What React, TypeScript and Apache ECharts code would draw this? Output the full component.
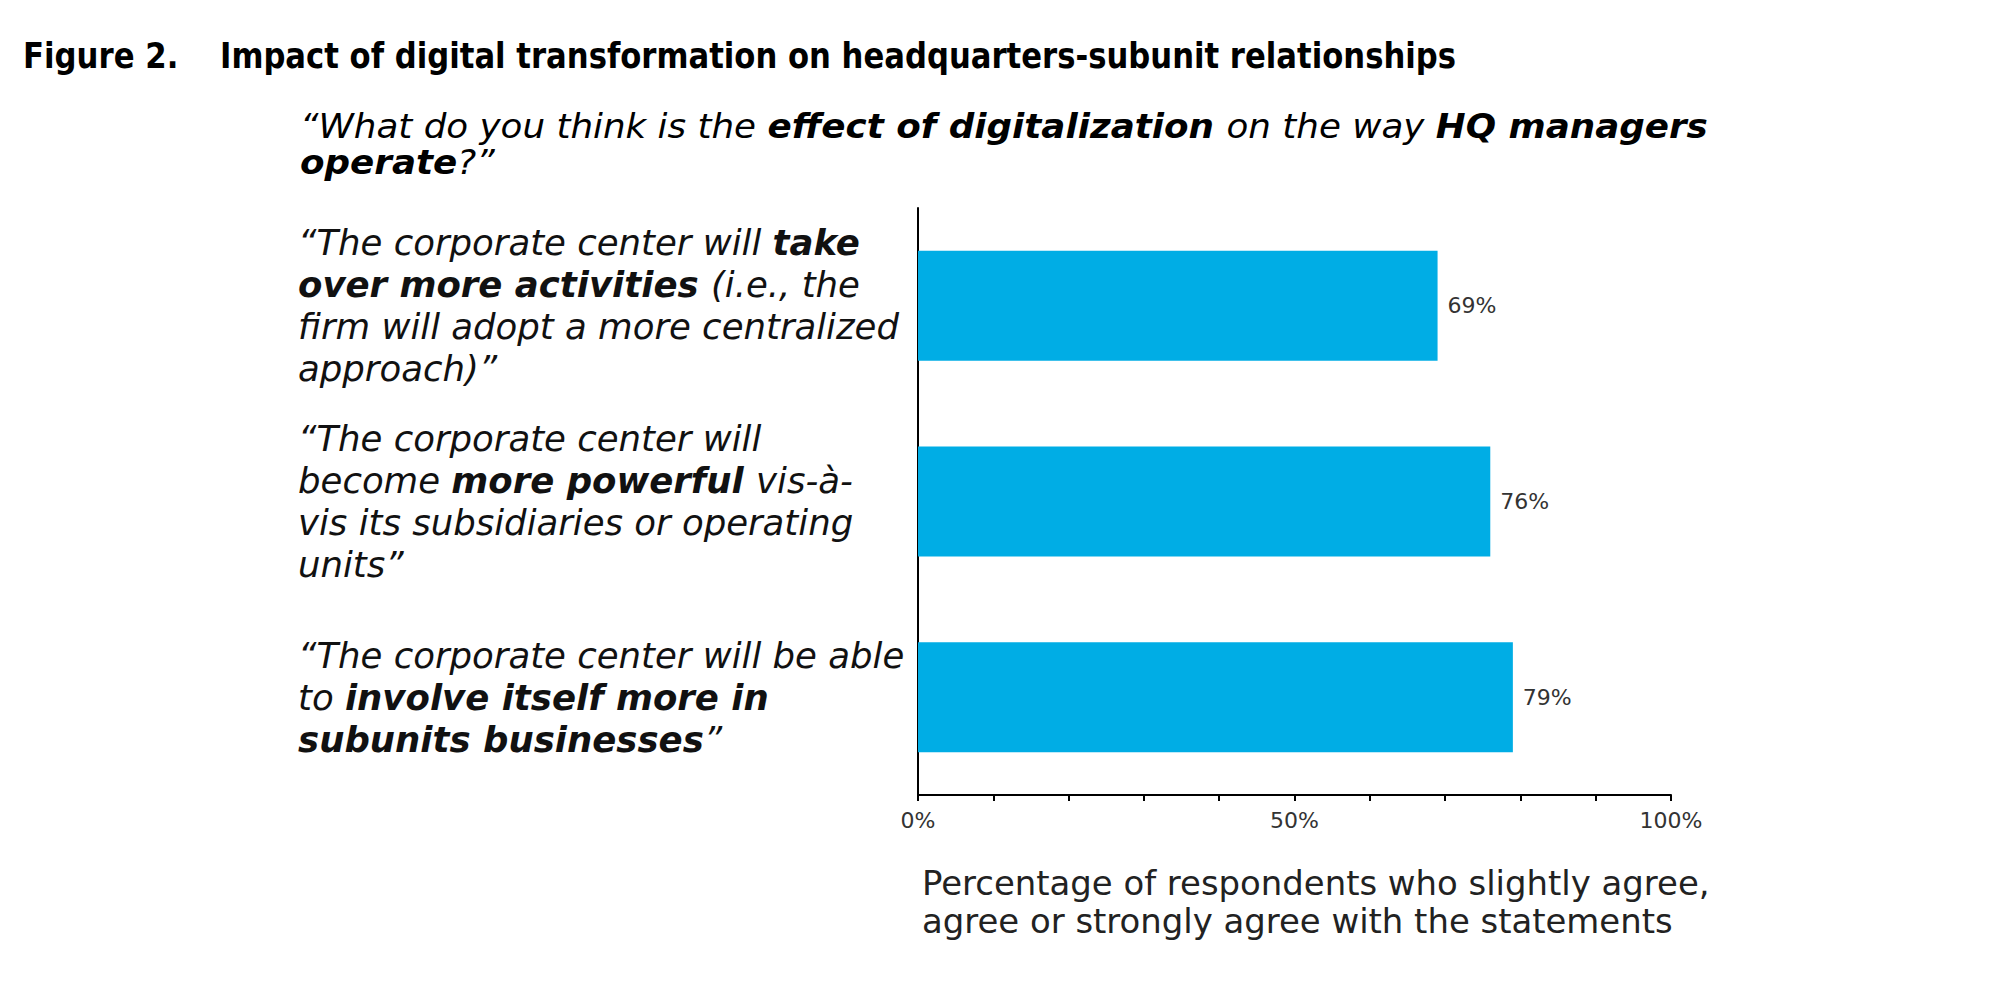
import React, { useEffect, useRef } from 'react';
import * as echarts from 'echarts';

// ---- Data ----
const figureLabel = 'Figure 2.';
const figureTitle = 'Impact of digital transformation on headquarters-subunit relationships';

// question text, split into lines of [style, text] segments (i = italic, b = bold italic)
const questionLines: [string, string][][] = [
  [['i', '“What do you think is the '], ['b', 'effect of digitalization '], ['i', 'on the way '], ['b', 'HQ managers']],
  [['b', 'operate'], ['i', '?”']],
];

const categories = [
  'The corporate center will take over more activities (i.e., the firm will adopt a more centralized approach)',
  'The corporate center will become more powerful vis-à-vis its subsidiaries or operating units',
  'The corporate center will be able to involve itself more in subunits businesses',
];

const categoryLines: [string, string][][][] = [
  [
    [['i', '“The corporate center will '], ['b', 'take']],
    [['b', 'over more activities '], ['i', '(i.e., the']],
    [['i', 'firm will adopt a more centralized']],
    [['i', 'approach)”']],
  ],
  [
    [['i', '“The corporate center will']],
    [['i', 'become '], ['b', 'more powerful '], ['i', 'vis-à-']],
    [['i', 'vis its subsidiaries or operating']],
    [['i', 'units”']],
  ],
  [
    [['i', '“The corporate center will be able']],
    [['i', 'to '], ['b', 'involve itself more in']],
    [['b', 'subunits businesses'], ['i', '”']],
  ],
];

const values = [69, 76, 79];
const labeledTicks = [0, 50, 100];
const axisTitleLines = [
  'Percentage of respondents who slightly agree,',
  'agree or strongly agree with the statements',
];

// ---- Layout / style ----
const FONT = 'DejaVu Sans';

function toRich(lines: [string, string][][]): string {
  return lines.map((line) => line.map(([s, t]) => `{${s}|${t}}`).join('')).join('\n');
}

export default function App() {
  const ref = useRef<HTMLDivElement>(null);

  useEffect(() => {
    if (!ref.current) return;
    const chart = echarts.init(ref.current, undefined, { renderer: 'svg' });

    const richCat = {
      i: { fontFamily: FONT, fontStyle: 'italic', fontSize: 35.5, lineHeight: 42, color: '#111', align: 'left' },
      b: { fontFamily: FONT, fontStyle: 'italic', fontWeight: 'bold', fontSize: 35.5, lineHeight: 42, color: '#111', align: 'left' },
    };
    const richQ = {
      i: { fontFamily: FONT, fontStyle: 'italic', fontSize: 34, lineHeight: 36, color: '#111' },
      b: { fontFamily: FONT, fontStyle: 'italic', fontWeight: 'bold', fontSize: 34, lineHeight: 36, color: '#111' },
    };

    const graphics: any[] = [
      {
        type: 'text',
        x: 23,
        y: 56,
        scaleX: 0.855,
        style: {
          text: figureLabel,
          fontFamily: FONT,
          fontWeight: 'bold',
          fontSize: 36,
          fill: '#000',
          align: 'left',
          verticalAlign: 'middle',
        },
      },
      {
        type: 'text',
        x: 220,
        y: 56,
        scaleX: 0.853,
        style: {
          text: figureTitle,
          fontFamily: FONT,
          fontWeight: 'bold',
          fontSize: 36,
          fill: '#000',
          align: 'left',
          verticalAlign: 'middle',
        },
      },
      {
        type: 'text',
        x: 300,
        y: 108,
        scaleX: 1.05,
        style: {
          text: toRich(questionLines),
          rich: richQ,
          align: 'left',
          verticalAlign: 'top',
        },
      },
      {
        type: 'text',
        x: 922,
        y: 864,
        style: {
          text: axisTitleLines.join('\n'),
          fontFamily: FONT,
          fontSize: 33.9,
          lineHeight: 38,
          fill: '#222',
          align: 'left',
          verticalAlign: 'top',
        },
      },
    ];

    chart.setOption({
      animation: false,
      backgroundColor: '#fff',
      grid: { left: 918, top: 208, width: 753, height: 587, containLabel: false },
      xAxis: {
        type: 'value',
        min: 0,
        max: 100,
        interval: 10,
        axisLine: { show: true, lineStyle: { color: '#000', width: 2 } },
        axisTick: { show: true, length: 6, lineStyle: { color: '#000', width: 2 } },
        splitLine: { show: false },
        axisLabel: {
          formatter: (v: number) => (labeledTicks.includes(v) ? `${v}%` : ''),
          color: '#333',
          fontSize: 22,
          fontFamily: FONT,
          margin: 14,
          showMinLabel: true,
          showMaxLabel: true,
        },
      },
      yAxis: {
        type: 'category',
        data: categories,
        inverse: true,
        axisLine: { show: true, lineStyle: { color: '#000', width: 2 } },
        axisTick: { show: false },
        splitLine: { show: false },
        axisLabel: {
          show: true,
          interval: 0,
          align: 'left',
          margin: 620,
          formatter: (_v: string, idx: number) => toRich(categoryLines[idx]),
          rich: richCat,
        },
      },
      series: [
        {
          type: 'bar',
          data: values,
          barWidth: 110,
          itemStyle: { color: '#00ADE5' },
          label: {
            show: true,
            position: 'right',
            distance: 10,
            formatter: '{c}%',
            color: '#333',
            fontSize: 22,
            fontFamily: FONT,
          },
        },
      ],
      graphic: graphics,
    });

    return () => chart.dispose();
  }, []);

  return (
    <div
      ref={ref}
      style={{ position: 'absolute', left: 0, top: 0, width: 2000, height: 983, background: '#fff' }}
    />
  );
}
